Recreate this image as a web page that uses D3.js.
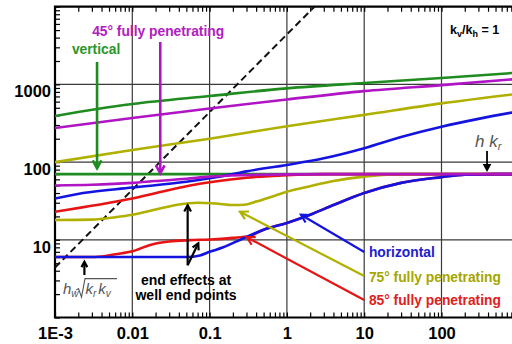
<!DOCTYPE html>
<html>
<head>
<meta charset="utf-8">
<script src="https://cdn.jsdelivr.net/npm/d3@7"></script>
<style>
  html, body { margin: 0; padding: 0; background: #fff; }
  svg { display: block; }
  text { font-family: "Liberation Sans", Arial, sans-serif; }
</style>
</head>
<body>
<svg id="chart" width="512" height="344"></svg>
<script>
// ---- axis ticks ----
const xTickValues = [1e-3, 0.01, 0.1, 1, 10, 100];
const xTickLabels = ["1E-3", "0.01", "0.1", "1", "10", "100"];
const yTickValues = [10, 100, 1000];
const yTickLabels = ["10", "100", "1000"];

// ---- curves: [x, y] pairs ----
const verticalUpper = [[1e-3,392],[0.0035,482],[0.01,560],[0.1,710],[1,890],[10,1043],[100,1211],[1000,1420]];
const verticalLower = [[1e-3,70],[1000,70]];

const pen45Upper = [[1e-3,275],[0.01,370],[0.1,490],[1,640],[10,820],[100,980],[1000,1180]];
const pen45Lower = [[1e-3,50],[0.003,51],[0.01,54],[0.02,57],[0.05,61],[0.1,65],[0.3,68],[1,69.5],[10,70],[1000,70]];

const pen75Upper = [[1e-3,100],[0.01,143],[0.1,200],[1,290],[10,405],[100,570],[1000,760]];
const pen75Lower = [[1e-3,18],[0.003,18.2],[0.006,19.5],[0.01,21],[0.02,24.5],[0.04,28.5],[0.07,30],[0.12,29.3],[0.2,28],[0.28,28.2],[0.4,31],[0.7,37],[1,41.5],[2,49],[4,57],[10,65],[20,69],[35,70],[1000,70]];

const horizUpper = [[1e-3,34],[0.0023,40],[0.01,47],[0.05,56],[0.1,62],[0.2,70],[0.3,76],[1,92],[3,112],[10,151],[30,210],[100,285],[300,360],[1000,450]];
const horizLower = [[1e-3,6],[0.05,6],[0.075,6.3],[0.1,7],[0.15,8],[0.27,10.4],[0.5,13.5],[1,16.5],[2,21],[4,28],[10,40],[30,54],[100,64],[200,69],[500,70],[1000,70]];

const pen85Upper = [[1e-3,23],[0.01,34],[0.056,50],[0.1,55],[0.3,63],[1,68],[3,70],[1000,70]];
const pen85Lower = [[1e-3,6],[0.003,6],[0.0045,6.2],[0.006,6.5],[0.01,7.1],[0.017,8.6],[0.03,9.5],[0.056,9.9],[0.1,10.1],[0.2,10.6],[0.33,11.2],[0.5,13.5],[1,16.5],[2,21],[4,28],[10,40],[30,54],[100,64],[200,69],[500,70],[1000,70]];

// wellbore asymptote  y = 4400 x
const asymptoteX = [1e-3, 2.27];
const asymptoteFactor = 4400;

// ---- layout ----
const svg = d3.select("#chart");
const x = d3.scaleLog().domain([1e-3, 1e3]).range([55, 518.8]);
const y = d3.scaleLog().domain([1, 1e4]).range([317.5, 6.7]);
const plotLeft = x.range()[0], plotTop = y.range()[1], plotBottom = y.range()[0];

svg.append("defs").append("clipPath").attr("id", "plot")
  .append("rect").attr("x", plotLeft).attr("y", plotTop).attr("width", 520 - plotLeft).attr("height", plotBottom - plotTop);

// grid
const grid = svg.append("g").attr("stroke", "#3a3a3a").attr("stroke-width", 1.2);
xTickValues.slice(1).forEach(v => grid.append("line")
  .attr("x1", x(v)).attr("x2", x(v)).attr("y1", plotTop).attr("y2", plotBottom));
yTickValues.forEach(v => grid.append("line")
  .attr("x1", plotLeft).attr("x2", 520).attr("y1", y(v)).attr("y2", y(v)));

// minor ticks on the frame
const tickSize = 5;
svg.append("g").attr("transform", `translate(0,${plotBottom})`)
  .call(d3.axisTop(x).tickValues(x.ticks()).tickSize(tickSize).tickFormat(""))
  .call(g => g.select(".domain").remove());
svg.append("g").attr("transform", `translate(0,${plotTop})`)
  .call(d3.axisBottom(x).tickValues(x.ticks()).tickSize(tickSize).tickFormat(""))
  .call(g => g.select(".domain").remove());
svg.append("g").attr("transform", `translate(${plotLeft},0)`)
  .call(d3.axisRight(y).tickValues(y.ticks()).tickSize(tickSize).tickFormat(""))
  .call(g => g.select(".domain").remove());
svg.selectAll(".tick line").attr("stroke", "#000").attr("stroke-width", 1.2);

// frame
svg.append("path").attr("d", `M520,${plotTop}H${plotLeft}V${plotBottom}H520`)
  .attr("stroke", "#000").attr("stroke-width", 2.2).attr("fill", "none");

// tick labels
svg.append("g").attr("transform", `translate(0,${plotBottom})`)
  .call(d3.axisBottom(x).tickValues(xTickValues).tickSize(0).tickPadding(0)
    .tickFormat((d, i) => xTickLabels[i]))
  .call(g => g.select(".domain").remove())
  .selectAll("text").attr("dy", null).attr("y", 21.5)
  .attr("font-size", 16.5).attr("font-weight", "bold").attr("fill", "#000")
  .attr("font-family", "Liberation Sans, Arial, sans-serif");
svg.append("g").attr("transform", `translate(${plotLeft},0)`)
  .call(d3.axisLeft(y).tickValues(yTickValues).tickSize(0).tickPadding(0)
    .tickFormat((d, i) => yTickLabels[i]))
  .call(g => g.select(".domain").remove())
  .selectAll("text").attr("dy", null).attr("y", 12.5).attr("x", -4)
  .attr("font-size", 16.5).attr("font-weight", "bold").attr("fill", "#000")
  .attr("font-family", "Liberation Sans, Arial, sans-serif");

// ---- curves ----
const COL = { green: "#1e8c1e", magenta: "#b014c4", olive: "#b0b000", blue: "#1414e0", red: "#e61414" };
const line = d3.line().x(d => x(d[0])).y(d => y(d[1])).curve(d3.curveMonotoneX);
const plot = svg.append("g").attr("clip-path", "url(#plot)");

plot.append("path")
  .attr("d", line(asymptoteX.map(v => [v, asymptoteFactor * v])))
  .attr("fill", "none").attr("stroke", "#111").attr("stroke-width", 2).attr("stroke-dasharray", "7,4");

const series = [
  [verticalUpper, COL.green], [verticalLower, COL.green],
  [pen75Upper, COL.olive], [pen75Lower, COL.olive],
  [pen85Upper, COL.red], [pen85Lower, COL.red],
  [horizUpper, COL.blue], [horizLower, COL.blue],
  [pen45Upper, COL.magenta], [pen45Lower, COL.magenta]
];
plot.selectAll("path.curve").data(series).join("path").attr("class", "curve")
  .attr("d", d => line(d[0])).attr("fill", "none")
  .attr("stroke", d => d[1]).attr("stroke-width", 2.6).attr("stroke-linejoin", "round");

// ---- annotations (positions in data units) ----
const ann = svg.append("g");
function arrow(x1, y1, x2, y2, color, w, head, filled) {
  const p1 = [x(x1), y(y1)], p2 = [x(x2), y(y2)];
  const ang = Math.atan2(p2[1] - p1[1], p2[0] - p1[0]);
  const a1 = ang + Math.PI - 0.5, a2 = ang + Math.PI + 0.5;
  const h1 = [p2[0] + head * Math.cos(a1), p2[1] + head * Math.sin(a1)];
  const h2 = [p2[0] + head * Math.cos(a2), p2[1] + head * Math.sin(a2)];
  ann.append("line").attr("x1", p1[0]).attr("y1", p1[1]).attr("x2", p2[0]).attr("y2", p2[1])
    .attr("stroke", color).attr("stroke-width", w);
  ann.append("path").attr("d", `M${h1}L${p2}L${h2}` + (filled ? "Z" : ""))
    .attr("fill", filled ? color : "none").attr("stroke", color).attr("stroke-width", w)
    .attr("stroke-linejoin", "miter");
}
function label(txt, xv, yv, color, anchor, size) {
  return ann.append("text").attr("x", x(xv)).attr("y", y(yv)).text(txt)
    .attr("fill", color).attr("font-size", size || 13.8).attr("font-weight", "bold")
    .attr("text-anchor", anchor || "start");
}

label("45° fully penetrating", 0.0216, 4198, "#b020c0", "middle");
arrow(0.023, 3515, 0.023, 72, COL.magenta, 2.6, 9);
label("vertical", 0.0034, 2462, "#2a962a", "middle");
arrow(0.0035, 1941, 0.0035, 83, COL.green, 2.6, 9);

// k_v/k_h = 1
const kt = ann.append("text").attr("x", x(129)).attr("y", y(4454))
  .attr("font-size", 12.5).attr("font-weight", "bold").attr("fill", "#000");
kt.append("tspan").text("k");
kt.append("tspan").text("v").attr("font-size", 9).attr("dy", 3);
kt.append("tspan").text("/k").attr("dy", -3);
kt.append("tspan").text("h").attr("font-size", 9).attr("dy", 3);
kt.append("tspan").text(" = 1").attr("dy", -3);

// h k_r
const hk = ann.append("text").attr("x", x(271)).attr("y", y(156))
  .attr("font-family", "Liberation Serif, Times New Roman, serif").attr("font-style", "italic")
  .attr("font-size", 17).attr("fill", "#555");
hk.append("tspan").text("h k");
hk.append("tspan").text("r").attr("font-size", 11).attr("dy", 3);
arrow(388, 139, 388, 79, "#000", 1.8, 6, true);

// h_w sqrt(k_r k_v)
const rx = x(1.27e-3), ry = y(2.0);
const hw = ann.append("text").attr("x", rx).attr("y", ry)
  .attr("font-family", "Liberation Serif, Times New Roman, serif").attr("font-style", "italic")
  .attr("font-size", 15).attr("fill", "#555");
hw.append("tspan").text("h");
hw.append("tspan").text("w").attr("font-size", 10).attr("dy", 3);
ann.append("path")
  .attr("d", `M${rx + 13},${ry - 4}l2.5,-1.5l3,8.5l3.5,-18.5h32`)
  .attr("fill", "none").attr("stroke", "#555").attr("stroke-width", 1.1);
const kk = ann.append("text").attr("x", rx + 22.5).attr("y", ry)
  .attr("font-family", "Liberation Serif, Times New Roman, serif").attr("font-style", "italic")
  .attr("font-size", 15).attr("fill", "#555");
kk.append("tspan").text("k");
kk.append("tspan").text("r").attr("font-size", 10).attr("dy", 3);
kk.append("tspan").text("k").attr("dy", -3).attr("dx", 2);
kk.append("tspan").text("v").attr("font-size", 10).attr("dy", 3);
arrow(0.0024, 3.52, 0.0024, 5.2, "#000", 2.2, 6);

// end effects
label("end effects at", 0.0496, 2.62, "#000", "middle", 14);
label("well end points", 0.0496, 1.68, "#000", "middle", 14);
arrow(0.052, 4.7, 0.052, 27.8, "#000", 2.2, 7);
arrow(0.052, 4.7, 0.0714, 9.0, "#000", 2.2, 7);

// curve legends
label("horizontal", 11.5, 6.01, "#2020d0");
arrow(10, 6.96, 1.52, 21, COL.blue, 2.2, 9);
label("75° fully penetrating", 11.5, 2.86, "#a6a600");
arrow(10, 3.42, 0.247, 23, COL.olive, 2.2, 9);
label("85° fully penetrating", 11.5, 1.45, "#e02020");
arrow(10, 1.68, 0.302, 10.8, COL.red, 2.2, 9);
</script>
</body>
</html>
